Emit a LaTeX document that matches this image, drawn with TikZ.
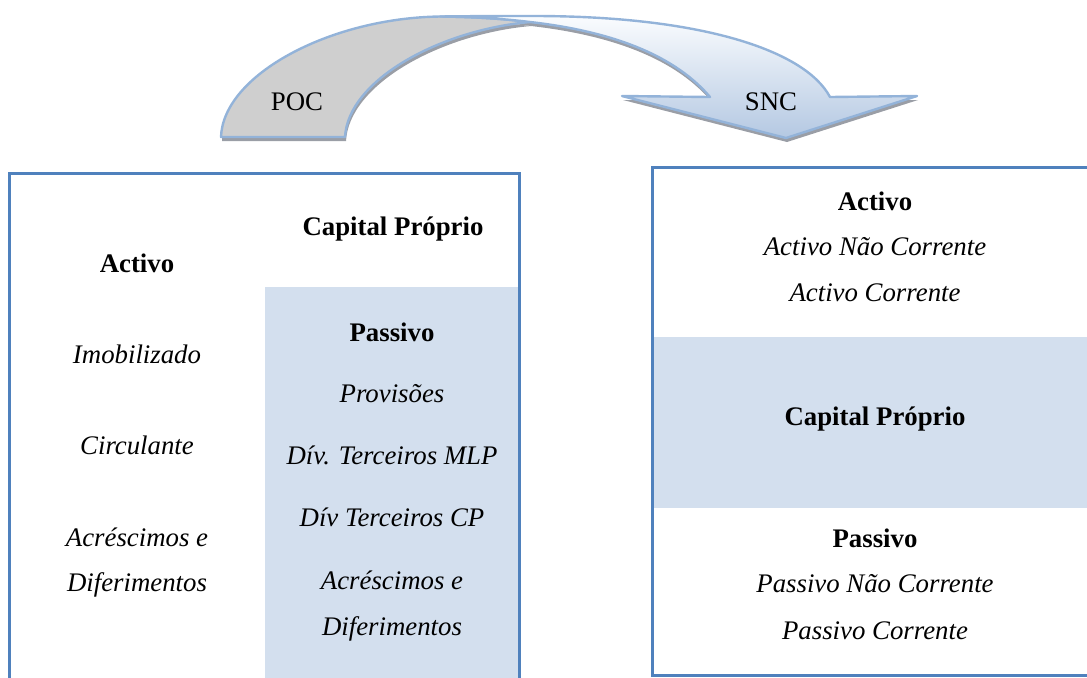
\documentclass[tikz,border=0pt]{standalone}
\usepackage{fontspec}
\setmainfont{Liberation Serif}
\definecolor{bord}{HTML}{4F81BD}
\definecolor{shadeblue}{HTML}{D3DFEE}
\definecolor{arrline}{HTML}{93B3D9}
\definecolor{arrgray}{HTML}{CFCFCF}
\definecolor{arrtop}{HTML}{FAFCFE}
\definecolor{arrbot}{HTML}{B4C8E2}
\definecolor{shadowc}{HTML}{9A9EA6}
\begin{document}
\begin{tikzpicture}[x=0.5pt,y=-0.5pt,
  lbl/.style={anchor=base,inner sep=0pt,font=\fontsize{13.4}{16}\selectfont},
  hd/.style={lbl,font=\fontsize{13.4}{16}\selectfont\bfseries},
  it/.style={lbl,font=\fontsize{13.4}{16}\selectfont\itshape},
  boxline/.style={draw=bord,line width=1.5pt},
  arrowline/.style={draw=arrline,line width=1.2pt,line join=round},
  ]
\useasboundingbox (0,0) rectangle (1087,677);
% ---- curved arrow: shadow
\begin{scope}[shift={(1,4)}]
  \fill[shadowc] (221,137) .. controls (223,75) and (330,18) .. (440,16.5)
    .. controls (480,17) and (505,19) .. (530,22)
    .. controls (440,30) and (348,80) .. (345,137) -- cycle;
  \fill[shadowc] (440,16.5) .. controls (480,16) and (505,16) .. (534,16)
    .. controls (700,16) and (805,50) .. (830,97) -- (917,96) -- (786,138)
    -- (622,96) -- (710,97) .. controls (670,50) and (600,30) .. (530,22)
    .. controls (505,19) and (480,17) .. (440,16.5) -- cycle;
\end{scope}
% ---- back (gray) band
\filldraw[fill=arrgray,arrowline] (221,137) .. controls (223,75) and (330,18) .. (440,16.5)
    .. controls (480,17) and (505,19) .. (530,22)
    .. controls (440,30) and (348,80) .. (345,137) -- cycle;
% ---- front (blue) band with head
\shadedraw[top color=arrtop,bottom color=arrbot,arrowline] (440,16.5) .. controls (480,16) and (505,16) .. (534,16)
    .. controls (700,16) and (805,50) .. (830,97) -- (917,96) -- (786,138)
    -- (622,96) -- (710,97) .. controls (670,50) and (600,30) .. (530,22)
    .. controls (505,19) and (480,17) .. (440,16.5) -- cycle;
\node[lbl] (poc) at (297,110) {POC};
\node[lbl] (snc) at (771,110) {SNC};
% ---- left box
\fill[shadeblue] (265,287) rectangle (519,700);
\draw[boxline] (9,700) -- (9,173) -- (519,173) -- (519,700);
\node[hd] (cp1) at (393,235) {Capital Próprio};
\node[hd] (a1) at (137,272) {Activo};
\node[hd] (p1) at (392,341) {Passivo};
\node[it] (imob) at (137,363) {Imobilizado};
\node[it] (prov) at (392,402) {Provisões};
\node[it] (circ) at (137,454) {Circulante};
\node[it] (dmlp) at (392,464) {Dív. Terceiros MLP};
\node[it] (dcp) at (392,526) {Dív Terceiros CP};
\node[it] (acr1) at (137,546) {Acréscimos e};
\node[it] (dif1) at (137,591) {Diferimentos};
\node[it] (acr2) at (392,589) {Acréscimos e};
\node[it] (dif2) at (392,635) {Diferimentos};
% ---- right box
\fill[shadeblue] (652,337) rectangle (1100,508);
\draw[boxline] (1100,675) -- (652,675) -- (652,167) -- (1100,167);
\node[hd] (a2) at (875,210) {Activo};
\node[it] (anc) at (875,255) {Activo Não Corrente};
\node[it] (ac) at (875,301) {Activo Corrente};
\node[hd] (cp2) at (875,425) {Capital Próprio};
\node[hd] (p2) at (875,547) {Passivo};
\node[it] (pnc) at (875,592) {Passivo Não Corrente};
\node[it] (pc) at (875,639) {Passivo Corrente};
\end{tikzpicture}
\end{document}
